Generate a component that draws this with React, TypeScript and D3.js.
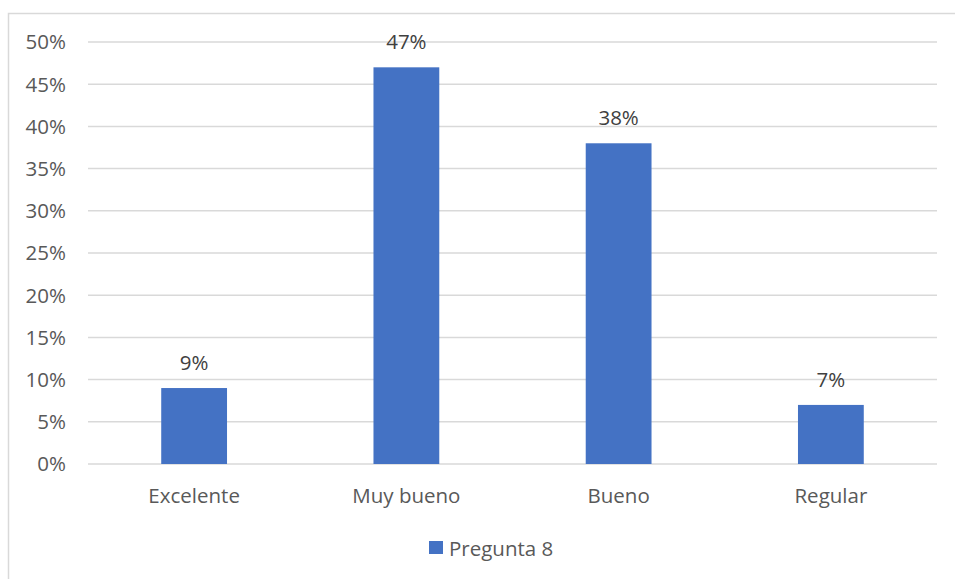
import React from "react";
import * as d3 from "d3";

const categories = ["Excelente", "Muy bueno", "Bueno", "Regular"];
const values = [0.09, 0.47, 0.38, 0.07];
const valueLabels = ["9%", "47%", "38%", "7%"];
const yTicks = [0, 0.05, 0.1, 0.15, 0.2, 0.25, 0.3, 0.35, 0.4, 0.45, 0.5];
const seriesName = "Pregunta 8";

const W = 955;
const H = 579;
const FONT = "'Open Sans', 'DejaVu Sans', sans-serif";
const FS = 20.5;
const TEXT = "#595959";
const GRID = "#d9d9d9";
const BAR = "#4472C4";

export default function App() {
  const left = 88;
  const right = 937;
  const top = 42;
  const bottom = 464;
  const x = d3.scaleBand<string>().domain(categories).range([left, right]).paddingInner(0.69).paddingOuter(0.345);
  const y = d3.scaleLinear().domain([0, 0.5]).range([bottom, top]);
  const fmt = d3.format(".0%");

  return (
    <svg width={W} height={H} style={{ position: "fixed", left: 0, top: 0, display: "block" }}>
      <rect x={0} y={0} width={W} height={H} fill="#fff" />
      <rect x={8.5} y={13.5} width={W + 10} height={H + 10} fill="#fff" stroke={GRID} strokeWidth={1.5} />
      {yTicks.map((t) => (
        <g key={t}>
          <line x1={left} x2={right} y1={y(t)} y2={y(t)} stroke={GRID} strokeWidth={1.5} />
          <text x={66} y={y(t)} dy="0.36em" textAnchor="end" fontFamily={FONT} fontSize={FS} fill={TEXT}>
            {fmt(t)}
          </text>
        </g>
      ))}
      {categories.map((c, i) => (
        <g key={c}>
          <rect x={x(c)} y={y(values[i])} width={x.bandwidth()} height={bottom - y(values[i])} fill={BAR} />
          <text
            x={(x(c) as number) + x.bandwidth() / 2}
            y={y(values[i]) - 18}
            textAnchor="middle"
            fontFamily={FONT}
            fontSize={FS}
            fill="#404040"
          >
            {valueLabels[i]}
          </text>
          <text
            x={(x(c) as number) + x.bandwidth() / 2}
            y={503}
            textAnchor="middle"
            fontFamily={FONT}
            fontSize={FS}
            fill={TEXT}
          >
            {c}
          </text>
        </g>
      ))}
      <rect x={429} y={541} width={14} height={13} fill={BAR} />
      <text x={449} y={556} fontFamily={FONT} fontSize={FS} fill={TEXT}>
        {seriesName}
      </text>
    </svg>
  );
}
